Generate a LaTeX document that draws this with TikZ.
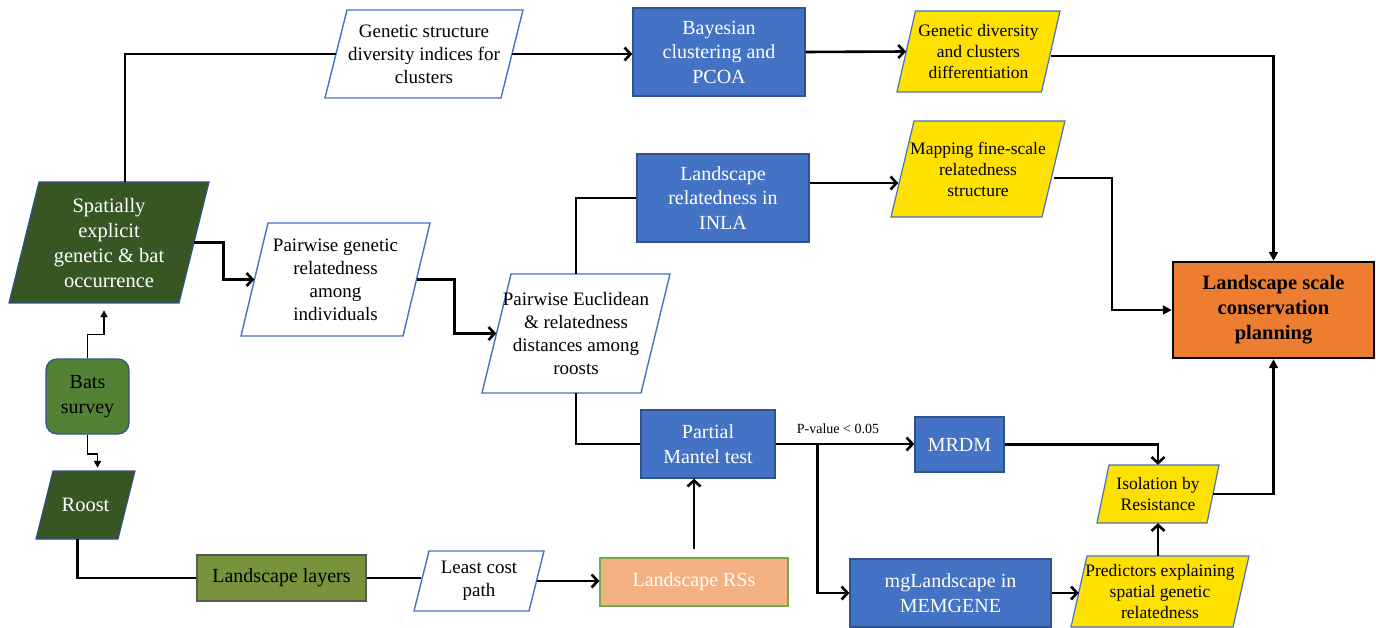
\documentclass[tikz,border=0pt]{standalone}
\usepackage{fontspec}
\setmainfont{Liberation Serif}
\usetikzlibrary{arrows.meta,calc}
\definecolor{bluef}{HTML}{4472C4}
\definecolor{bluedark}{HTML}{2F528F}
\definecolor{yelf}{HTML}{FFE100}
\definecolor{dgreen}{HTML}{375623}
\definecolor{mgreen}{HTML}{548235}
\definecolor{olive}{HTML}{77933C}
\definecolor{salmon}{HTML}{F4B183}
\definecolor{lgreen}{HTML}{70AD47}
\definecolor{orangef}{HTML}{ED7D31}
\newcommand{\pgram}[8]{%
  \path[#2] (#3+#7,#4) -- (#5,#4) -- (#5-#7,#6) -- (#3,#6) -- cycle;
  \node[#2 txt, minimum width={#5-#3-#7}, minimum height={#6-#4}] (#1) at ({(#3+#5)/2},{(#4+#6)/2}) {#8};
}
\begin{document}
\begin{tikzpicture}[x=1pt,y=-1pt,
  base/.style={inner sep=0pt, align=center},
  wp/.style={draw=bluef, line width=1.4pt, fill=white},
  wp txt/.style={base, font=\fontsize{19}{23}\selectfont},
  yel/.style={draw=bluef, line width=1.2pt, fill=yelf},
  yel txt/.style={base, font=\fontsize{17.5}{21}\selectfont},
  dg/.style={draw=bluedark, line width=1.2pt, fill=dgreen},
  dg txt/.style={base, text=white, font=\fontsize{20.5}{25}\selectfont},
  blu/.style={base, draw=bluedark, line width=1.4pt, fill=bluef, text=white, font=\fontsize{20}{24.5}\selectfont},
  ln/.style={line width=2.6pt},
  arr/.style={ln, -{Straight Barb[length=6pt,width=13pt]}},
  arrc/.style={line width=2.2pt, -{Triangle[length=9pt,width=9pt]}},
  tarr/.style={line width=1.8pt, -{Triangle[length=7pt,width=7pt]}},
]
\useasboundingbox[fill=white] (0,0) rectangle (1376,628);

% parallelograms
\pgram{A}{wp}{325}{10}{523}{98}{22}{Genetic structure\\diversity indices for\\clusters}
\pgram{gd}{yel}{897}{11}{1060}{92}{18.5}{Genetic diversity\\and clusters\\differentiation}
\pgram{map}{yel}{891}{121}{1065}{217}{23}{Mapping fine-scale\\relatedness\\structure}
\pgram{sp}{dg}{9}{182}{209}{303}{30}{Spatially\\explicit\\genetic \& bat\\occurrence}
\pgram{pg}{wp}{241}{223}{430}{336}{27}{Pairwise genetic\\relatedness\\among\\individuals}
\pgram{eu}{wp}{482}{274}{670}{393}{29}{Pairwise Euclidean\\\& relatedness\\distances among\\roosts}
\pgram{roost}{dg}{36}{471}{135}{539}{17}{Roost}
\pgram{lc}{wp}{414}{551}{544}{611}{15}{Least cost\\path}
\pgram{ibr}{yel}{1097}{465}{1219}{523}{12}{Isolation by\\Resistance}
\pgram{pred}{yel}{1071}{556}{1249}{627}{16}{Predictors explaining\\spatial genetic\\relatedness}

% rectangles
\node[blu, minimum width=172, minimum height=88] (bay) at (719,52) {Bayesian\\clustering and\\PCOA};
\node[blu, minimum width=172, minimum height=88] (inla) at (723,198) {Landscape\\relatedness in\\INLA};
\node[blu, minimum width=134, minimum height=68] (pm) at (708,444) {Partial\\Mantel test};
\node[blu, minimum width=89, minimum height=55] (mrdm) at (959.5,444.5) {MRDM};
\node[blu, minimum width=201, minimum height=68] (mg) at (950.5,593) {mgLandscape in\\MEMGENE};
\node[base, draw=black, line width=2.4pt, fill=orangef, minimum width=201, minimum height=96,
  font=\bfseries\fontsize{20.5}{25}\selectfont] (cons) at (1273.5,310) {Landscape scale\\conservation\\planning};
\node[base, draw=bluedark, line width=1.2pt, fill=mgreen, rounded corners=11pt, minimum width=83, minimum height=75,
  font=\fontsize{20}{25}\selectfont] (bats) at (87.5,396.5) {Bats\\survey};
\node[base, draw=black!65, line width=1.4pt, fill=olive, minimum width=169, minimum height=46,
  font=\fontsize{20}{24}\selectfont] (ll) at (281.5,578) {Landscape layers};
\node[base, draw=lgreen, line width=1.2pt, fill=salmon, text=white, minimum width=188, minimum height=48,
  font=\fontsize{20}{24}\selectfont] (rss) at (694,582) {Landscape RSs};

% connectors
\draw[ln] ([xshift=16pt]sp.north) |- (A.west);
\draw[arr] (A.east) -- (A.east -| bay.west);
\draw[arr] (bay.east) -- (gd.west);
\draw[arrc] ([yshift=-4.5pt]gd.east) -| (cons.north);
\draw[arr] (sp.east) -- ++(29,0) |- (pg.west);
\draw[arr] (pg.east) -- ++(38,0) |- (eu.west);
\draw[ln] (eu.north) |- (inla.west);
\draw[ln] (eu.south) |- (pm.west);
\draw[arr] ([yshift=15pt]inla.east) -- ([xshift=-4pt,yshift=15pt]inla.east -| map.west);
\draw[arrc] ([yshift=-9pt]map.east) -- ++(58,0) |- (cons.west);
\draw[arr] (pm.east) -- (pm.east -| mrdm.west);
\coordinate (br) at ($(pm.east)+(42,0)$);
\draw[arr] (br) |- (mg.west);
\node[font=\fontsize{14}{16}\selectfont, inner sep=0pt] (pv) at (838,429) {P-value < 0.05};
\draw[arr] (mrdm.east) -| (ibr.north);
\draw[arrc] (ibr.east) -| (cons.south);
\draw[arr] (pred.north -| ibr.south) -- (ibr.south);
\draw[arr] (mg.east) -- (mg.east -| pred.west);
\draw[arr] ([yshift=8pt]rss.north) -- (rss.north |- pm.south);
\draw[arr] (lc.east) -- (lc.east -| rss.west);
\draw[ln] (ll.east) -- (ll.east -| lc.west);
\draw[ln] ([xshift=-8pt]roost.south) |- (ll.west);
\draw[tarr] (bats.north) -- ++(0,-24) -| ([xshift=-5pt,yshift=-7pt]sp.south);
\draw[tarr] (bats.south) -- ++(0,19) -| ([xshift=12pt,yshift=3pt]roost.north);
\end{tikzpicture}
\end{document}
